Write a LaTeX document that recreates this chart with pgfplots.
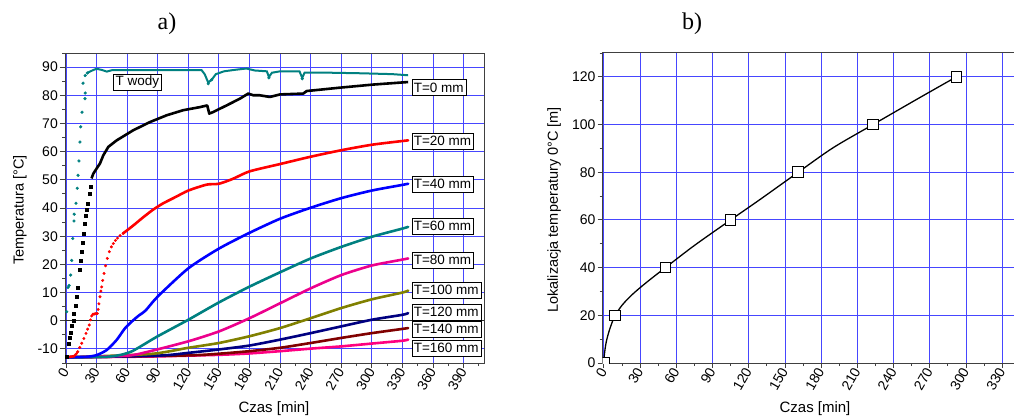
\documentclass[border=0pt]{standalone}
\usepackage{fontspec}
\setmainfont{Liberation Sans}
\newfontfamily\seriffont{Liberation Serif}
\usepackage{pgfplots}
\pgfplotsset{compat=1.18}
\definecolor{gridblue}{RGB}{70,70,255}
\definecolor{tealc}{RGB}{0,128,128}
\definecolor{olivec}{RGB}{128,128,0}
\definecolor{navyc}{RGB}{0,0,128}
\definecolor{darkredc}{RGB}{128,0,0}
\definecolor{pinkc}{RGB}{255,0,128}
\pgfplotsset{
  mystyle/.style={
    scale only axis, anchor=south west,
    axis line style={draw=black!75, line width=1pt},
    tick pos=left, tick align=outside,
    major tick length=5pt, minor tick length=3pt,
    every tick/.style={black!75, line width=0.9pt},
    grid=major,
    major grid style={gridblue, line width=0.9pt},
    xticklabel style={font=\fontsize{14}{16}\selectfont, rotate=60, anchor=east, inner sep=1pt},
    yticklabel style={font=\fontsize{14}{16}\selectfont, inner sep=2pt},
    /pgf/number format/assume math mode=true,
  },
}
\tikzset{
  lbl/.style={draw=black, fill=white, inner xsep=2pt, inner ysep=1pt, minimum height=16pt, anchor=west, font=\fontsize{13.5}{15}\selectfont},
  thk/.style={line width=2.6pt, line join=round, line cap=round, smooth, tension=0.4}
}
\begin{document}
\begin{tikzpicture}[x=1pt,y=1pt]
\useasboundingbox (0,0) rectangle (1014,418);
\begin{axis}[mystyle,
  at={(65pt,55pt)}, width=419pt, height=310pt,
  xmin=-1, xmax=410, ymin=-15, ymax=95,
  xtick={0,30,...,390}, minor xtick={15,45,...,405},
  ytick={-10,10,20,...,90}, minor ytick={-15,-5,...,95},
  extra y ticks={0},
  extra y tick style={major grid style={black!85, line width=1.1pt}},
]
% T=160
\addplot[thk, pinkc] coordinates {(0,-13)(82.6,-12.7)(150,-12.1)(180,-11.6)(210,-10.8)(240,-9.9)(270,-9.1)(300,-8.1)(330,-7.1)(335.6,-6.7)};
% T=140
\addplot[thk, darkredc] coordinates {(0,-13)(120,-12.3)(150,-11.7)(180,-10.8)(210,-9.6)(240,-7.9)(270,-6.1)(300,-4.4)(330,-2.9)(335.6,-2.6)};
% T=120
\addplot[thk, navyc] coordinates {(0,-13)(90,-12.4)(120,-11.4)(150,-10.2)(180,-8.8)(210,-6.7)(240,-4.4)(270,-2)(300,0.35)(330,2.1)(335.6,2.7)};
% T=100
\addplot[thk, olivec] coordinates {(0,-13)(82.6,-11.8)(120,-9.6)(150,-7.9)(180,-5.5)(210,-2.6)(240,0.9)(270,4.5)(300,7.6)(330,10)(335.6,10.7)};
% T=80
\addplot[thk, magenta] coordinates {(0,-13)(60,-12.4)(82.6,-10.8)(120,-7.3)(150,-3.8)(180,0.9)(210,6.2)(240,11.5)(270,16.2)(300,19.6)(330,21.7)(335.6,22.1)};
% T=60
\addplot[thk, tealc] coordinates {(0,-13)(40,-12.8)(55,-12)(65,-10.8)(76,-8.5)(90,-5.5)(120,0.35)(150,6.5)(180,12.1)(210,17.2)(240,22.1)(270,26.2)(300,29.8)(330,32.7)(335.6,33.3)};
% T=40
\addplot[thk, blue] coordinates {(0,-13)(20,-12.8)(30,-12.2)(39.9,-10.4)(49.7,-6.8)(57.8,-2.7)(66,0.2)(72,2)(78,3.6)(90,8.6)(120,18.6)(150,25.6)(180,31.2)(210,36.2)(240,40.1)(270,43.5)(300,46.2)(330,48.2)(335.6,48.6)};
% T=20
\addplot[thk, red] coordinates {(0,-13)(8,-12.6)};
\addplot[only marks, red, mark=*, mark size=1.3pt] coordinates {(8.8,-12.2)(10.2,-11.7)(11.5,-11)(13.5,-9.5)(15.4,-8)(17.5,-6.3)(19.6,-4.5)(21.2,-3)(22.8,-1.5)(24,0.3)(25.2,1.7)(26.5,2.3)(27.8,2.4)(29.2,2.5)(30.7,2.6)(31.5,4)(32.3,6)(33.3,8.5)(34.2,10.5)(35,12)(36,14.3)(37.3,16.8)(38.8,19.5)(40.5,22.1)(42.5,24.5)(44.5,26.2)(46.4,27.4)(48.5,28.5)(50.5,29.3)(53,30.2)(56,31)};
\addplot[thk, red] coordinates {(56,31)(66,33.8)(75,36.5)(85,39.3)(95,41.6)(108,44)(120,46.2)(138,48.3)(150,48.6)(164,50.4)(180,53)(210,55.6)(240,58.2)(270,60.5)(301,62.5)(335.6,64)};
% T=0
\addplot[only marks, black, mark=square*, mark size=1.5pt] coordinates {(0.7,-12.8)(2.2,-8.3)(3.9,-5.9)(4.9,-4.3)(5.9,-1.9)(7.2,0)(7.8,2.6)(9.1,5.2)(10.1,8.5)(11.4,11.8)(13,18)(14.4,21.3)(15,24.5)(16.4,27.6)(17,31)(18,34.5)(19,37.1)(20.3,39.5)(21.2,41.4)(22.8,45.1)(24.2,47.5)};
\addplot[line width=2.6pt, line join=round, black] coordinates {(25,50.5)(26.8,52.2)(30,54)(33.3,55.8)(36.6,58.7)(41.5,61.7)(49.7,64)(66,67.6)(82.4,70.5)(98.7,72.9)(114.9,74.7)(131.4,75.8)(138.5,76.4)(140.5,73.5)(144,74)(157.5,76.4)(170.6,78.8)(178.7,80.6)(183.6,80)(190,80)(200,79.4)(209.8,80.3)(232.7,80.6)(236,81.5)(268.6,82.7)(301.3,83.8)(335.6,84.7)};
% T wody
\addplot[only marks, tealc, mark=*, mark size=1.4pt] coordinates {(0.7,3.2)(2,11.8)(3,12.5)(4.6,16.2)(5.6,21.4)(6.6,29.2)(7.8,35.4)(8,37.8)(9.8,41.7)(11,47)(11.8,51.6)(12.7,56.7)(13.7,63.4)(14.4,68.8)(15.7,74)(16.7,84.3)(18.6,78.8)(18.8,80.8)(18.8,87)(20.9,87.9)(139.5,84.1)(142.8,85.5)(199,86.2)(231.7,85.9)};
\addplot[line width=2pt, tealc] coordinates {(20.9,87.9)(24,88.5)(27,89)(30,89.4)(35,89)(40,88.4)(45,88.9)(80,88.9)(133,88.9)(136,87.5)(139.5,84.5)(142.8,85.5)(147,87.5)(155,88.5)(165,89)(177,89.5)(185,88.8)(197,88.5)(199,86.5)(202,88)(210,88.5)(229,88.5)(231.7,86.2)(234,88)(260,88)(290,87.8)(320,87.5)(335.6,87.1)};
\node[lbl] at (axis cs:339,82.8) {T=0 mm};
\node[lbl] at (axis cs:339,63.8) {T=20 mm};
\node[lbl] at (axis cs:339,48.4) {T=40 mm};
\node[lbl] at (axis cs:339,33.5) {T=60 mm};
\node[lbl] at (axis cs:339,21.5) {T=80 mm};
\node[lbl] at (axis cs:339,10.9) {T=100 mm};
\node[lbl] at (axis cs:339,3.2) {T=120 mm};
\node[lbl] at (axis cs:339,-3) {T=140 mm};
\node[lbl] at (axis cs:339,-9.8) {T=160 mm};
\node[lbl, anchor=center] at (axis cs:70,84.7) {T wody};
\end{axis}
\begin{axis}[mystyle,
  at={(602.7pt,55pt)}, width=417.6pt, height=310pt,
  xmin=-1, xmax=345, ymin=0, ymax=130,
  xtick={0,30,...,330}, minor xtick={15,45,...,345},
  ytick={0,20,...,120}, minor ytick={10,30,...,130},
  clip marker paths=true,
]
\addplot[black, line width=1.3pt, smooth, tension=0.5] coordinates {(0,0)(0.3,3)(1,6)(2,9)(3.5,12)(5.5,15.2)(9,19.7)(15,24.2)(22,28)(30,31.6)(40,35.7)(51,40)(75,49.3)(105,60)(130,68.8)(161,80)(190,90.3)(223,100)(260,110.8)(292,120)};
\addplot[only marks, mark=square*, mark size=5.3pt, mark options={fill=white, draw=black, line width=0.9pt}] coordinates {(0,0)(9,20)(51,40)(105,60)(161,80)(223,100)(292,120)};
\end{axis}
\node[font=\fontsize{15}{17}\selectfont] at (274,9) {Czas [min]};
\node[font=\fontsize{15}{17}\selectfont] at (815,9) {Czas [min]};
\node[font=\fontsize{14.5}{16}\selectfont, rotate=90] at (20,208) {Temperatura [°C]};
\node[font=\fontsize{14.5}{16}\selectfont, rotate=90] at (554,208) {Lokalizacja temperatury 0°C [m]};
\node[font=\seriffont\fontsize{24}{28}\selectfont] at (167,394) {a)};
\node[font=\seriffont\fontsize{24}{28}\selectfont] at (692,394) {b)};
\end{tikzpicture}
\end{document}
